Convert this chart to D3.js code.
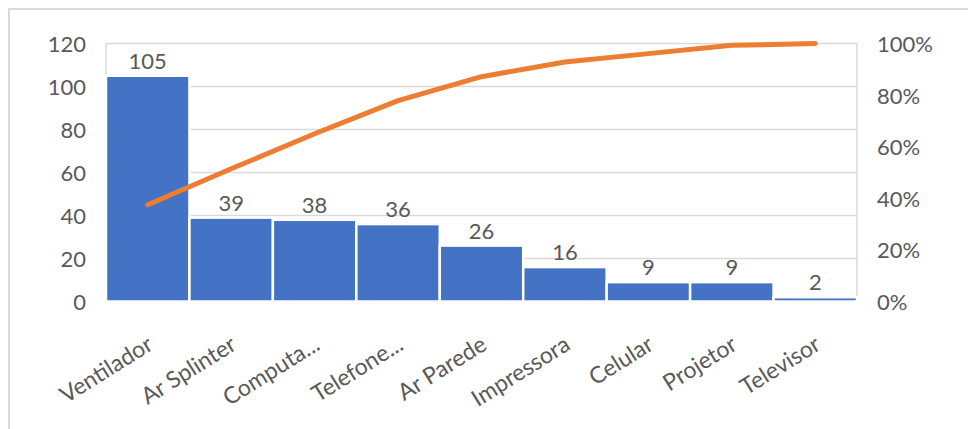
<!DOCTYPE html>
<html>
<head>
<meta charset="utf-8">
<script src="https://cdn.jsdelivr.net/npm/d3@7/dist/d3.min.js"></script>
<style>
  html, body { margin: 0; padding: 0; background: #fff; }
  svg { display: block; }
  text { font-family: Lato, "Open Sans", sans-serif; fill: #595959; }
</style>
</head>
<body>
<svg id="chart" width="968" height="429"></svg>
<script>
const categories = ["Ventilador", "Ar Splinter", "Computa...", "Telefone...", "Ar Parede", "Impressora", "Celular", "Projetor", "Televisor"];
const counts = [105, 39, 38, 36, 26, 16, 9, 9, 2];
const leftTicks = [0, 20, 40, 60, 80, 100, 120];
const rightTicks = [0, 0.2, 0.4, 0.6, 0.8, 1.0];

const total = d3.sum(counts);
let run = 0;
const cumulative = counts.map(v => (run += v) / total);

const W = 968, H = 429;
const m = { left: 106, right: 111, top: 43.5, bottom: 127.5 };
const svg = d3.select("#chart");

// outer chart border
svg.append("rect")
  .attr("x", 9).attr("y", 9)
  .attr("width", W + 10).attr("height", H + 10)
  .attr("fill", "none").attr("stroke", "#D9D9D9").attr("stroke-width", 2);

const x = d3.scaleBand().domain(categories).range([m.left, W - m.right]).paddingInner(0).paddingOuter(0);
const y = d3.scaleLinear().domain([0, 120]).range([H - m.bottom, m.top]);
const y2 = d3.scaleLinear().domain([0, 1]).range([H - m.bottom, m.top]);

// gridlines
svg.append("g").selectAll("line").data(leftTicks).join("line")
  .attr("x1", m.left).attr("x2", W - m.right)
  .attr("y1", d => y(d)).attr("y2", d => y(d))
  .attr("stroke", "#D9D9D9").attr("stroke-width", 1.5);

// plot area side borders
svg.append("line").attr("x1", m.left).attr("x2", m.left).attr("y1", m.top).attr("y2", y(0))
  .attr("stroke", "#D9D9D9").attr("stroke-width", 1.5);
svg.append("line").attr("x1", W - m.right).attr("x2", W - m.right).attr("y1", m.top).attr("y2", y(0))
  .attr("stroke", "#D9D9D9").attr("stroke-width", 1.5);

// bars
svg.append("g").selectAll("rect").data(counts).join("rect")
  .attr("x", (d, i) => x(categories[i]))
  .attr("width", x.bandwidth())
  .attr("y", d => y(d))
  .attr("height", d => y(0) - y(d))
  .attr("fill", "#4472C4")
  .attr("stroke", "#fff")
  .attr("stroke-width", 2.5);

// data labels
svg.append("g").selectAll("text").data(counts).join("text")
  .attr("x", (d, i) => x(categories[i]) + x.bandwidth() / 2)
  .attr("y", d => y(d) - 7)
  .attr("text-anchor", "middle")
  .attr("font-size", 22)
  .text(d => d);

// left axis
const yAxis = d3.axisLeft(y).tickValues(leftTicks).tickSize(0).tickPadding(0);
const gy = svg.append("g").attr("transform", `translate(86,0)`).call(yAxis);
gy.select(".domain").remove();
gy.selectAll("text").attr("font-size", 22).attr("dy", "0.36em").style("fill", "#595959");

// right axis
const y2Axis = d3.axisRight(y2).tickValues(rightTicks).tickSize(0).tickPadding(0).tickFormat(d3.format(".0%"));
const gy2 = svg.append("g").attr("transform", `translate(877,0)`).call(y2Axis);
gy2.select(".domain").remove();
gy2.selectAll("text").attr("font-size", 22).attr("dy", "0.36em").style("fill", "#595959");

// x axis labels
const xAxis = d3.axisBottom(x).tickSize(0).tickPadding(0);
const gx = svg.append("g").attr("transform", `translate(0,${y(0)})`).call(xAxis);
gx.select(".domain").remove();
gx.selectAll("text")
  .attr("font-size", 23)
  .attr("text-anchor", "end")
  .attr("y", 0).attr("dy", "0.72em")
  .attr("transform", "translate(-2,33) rotate(-32)")
  .style("fill", "#595959");

// cumulative line
const line = d3.line()
  .x((d, i) => x(categories[i]) + x.bandwidth() / 2)
  .y(d => y2(d));
svg.append("path").datum(cumulative)
  .attr("d", line)
  .attr("fill", "none")
  .attr("stroke", "#ED7D31")
  .attr("stroke-width", 5)
  .attr("stroke-linecap", "round")
  .attr("stroke-linejoin", "round");
</script>
</body>
</html>
